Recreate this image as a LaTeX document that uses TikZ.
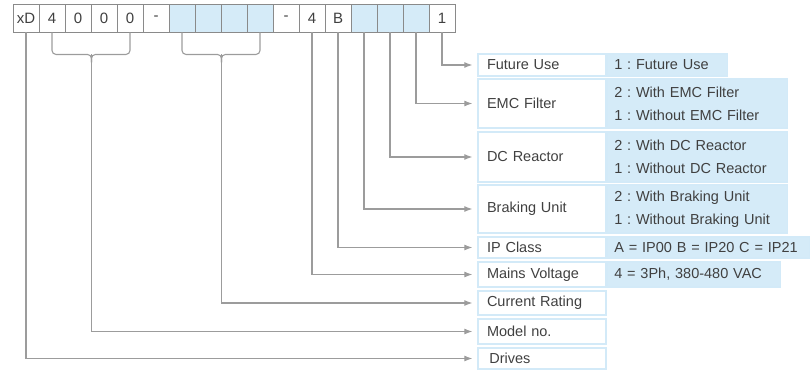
\documentclass[tikz,border=0pt]{standalone}
\usepackage{fontspec}
\setmainfont{Liberation Sans}
\frenchspacing
\usetikzlibrary{arrows.meta,calc}
\definecolor{ink}{HTML}{404040}
\definecolor{cellline}{HTML}{8A8A8A}
\definecolor{wire}{HTML}{9C9C9C}
\definecolor{rowline}{HTML}{D3EAF8}
\definecolor{rowfill}{HTML}{D5EBF8}
\tikzset{
  cell/.style={
    draw=cellline,
    line width=0.9pt,
    minimum width=26pt,
    minimum height=28pt,
    inner sep=0pt,
    text=ink,
    font=\fontsize{15}{17}\selectfont
  },
  lab/.style={
    draw=rowline,
    line width=1.3pt,
    text width=110pt,
    inner xsep=9pt,
    inner ysep=0pt,
    align=left,
    text=ink,
    font=\fontsize{14.5}{17}\selectfont
  },
  val/.style={
    draw=rowline,
    fill=rowfill,
    line width=1.3pt,
    text width=#1,
    inner xsep=7pt,
    inner ysep=0pt,
    align=left,
    anchor=west,
    text=ink,
    font=\fontsize{14.5}{23}\selectfont
  },
  link/.style={draw=wire, line width=1.1pt},
  arr/.style={link, -{Latex[length=8pt,width=6pt]}, shorten >=5pt}
}

\begin{document}
\begin{tikzpicture}[x=1pt,y=-1pt]
\useasboundingbox (0,0) rectangle (812,370);

% code cells
\foreach \t/\f [count=\i] in {xD/white,4/white,0/white,0/white,0/white,-/white,
    {}/rowfill,{}/rowfill,{}/rowfill,{}/rowfill,-/white,4/white,B/white,
    {}/rowfill,{}/rowfill,{}/rowfill,1/white}
  \node[cell, fill=\f] (c\i) at (26*\i,18) {\t};

% fields
\node[lab, minimum height=22pt] (fut) at (542,65) {Future Use};
\node[val=106pt, minimum height=22pt] (futv) at (fut.east) {1 : Future Use};
\node[lab, minimum height=49pt] (emc) at (542,103.5) {EMC Filter};
\node[val=166pt, minimum height=49pt] (emcv) at (emc.east) {2 : With EMC Filter\\1 : Without EMC Filter};
\node[lab, minimum height=50pt] (dcr) at (542,157) {DC Reactor};
\node[val=166pt, minimum height=50pt] (dcrv) at (dcr.east) {2 : With DC Reactor\\1 : Without DC Reactor};
\node[lab, minimum height=48pt] (brk) at (542,209) {Braking Unit};
\node[val=166pt, minimum height=48pt] (brkv) at (brk.east) {2 : With Braking Unit\\1 : Without Braking Unit};
\node[lab, minimum height=21pt] (ipc) at (542,247.5) {IP Class};
\node[val=188pt, minimum height=21pt] (ipcv) at (ipc.east) {A = IP00 B = IP20 C = IP21};
\node[lab, minimum height=25pt] (mns) at (542,274.5) {Mains Voltage};
\node[val=159pt, minimum height=25pt] (mnsv) at (mns.east) {4 = 3Ph, 380-480 VAC};
\node[lab, minimum height=24pt] (cur) at (542,303) {Current Rating};
\node[lab, minimum height=25pt] (mdl) at (542,331.5) {Model no.};
\node[lab, minimum height=21pt] (drv) at (542,358.5) {\,Drives};

% braces
\coordinate (mdlfork) at ($(c3.south east)+(0,22)$);
\coordinate (curfork) at ($(c8.south east)+(0,22)$);
\draw[link, rounded corners=4pt] (c2.south) |- (mdlfork) -- ++(0,8);
\draw[link, rounded corners=4pt] (c5.south) |- (mdlfork) -- ++(0,8);
\draw[link, rounded corners=4pt] (c7.south) |- (curfork) -- ++(0,8);
\draw[link, rounded corners=4pt] (c10.south) |- (curfork) -- ++(0,8);

% connectors
\draw[arr] (c17.south) |- (fut.west);
\draw[arr] (c16.south) |- (emc.west);
\draw[arr] (c15.south) |- (dcr.west);
\draw[arr] (c14.south) |- (brk.west);
\draw[arr] (c13.south) |- (ipc.west);
\draw[arr] (c12.south) |- (mns.west);
\draw[arr] (curfork) |- (cur.west);
\draw[arr] (mdlfork) |- (mdl.west);
\draw[arr] (c1.south) |- (drv.west);

\end{tikzpicture}
\end{document}
